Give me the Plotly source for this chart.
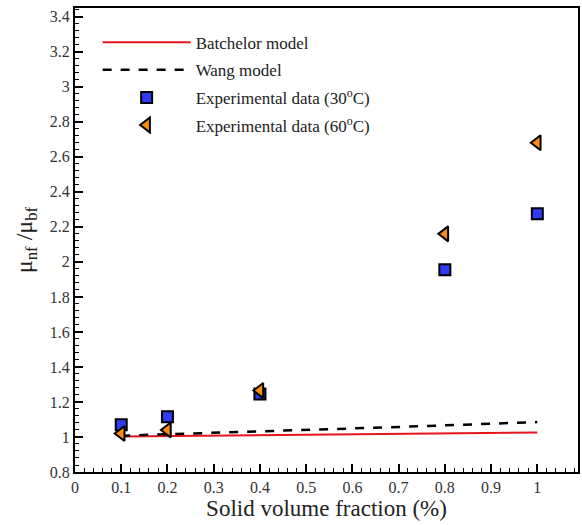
import plotly.graph_objects as go

# Data
phi_model = [0.1, 0.2, 0.3, 0.4, 0.5, 0.6, 0.7, 0.8, 0.9, 1.0]
batchelor = [1.0025, 1.0050, 1.0076, 1.0101, 1.0127, 1.0152, 1.0178, 1.0204, 1.0230, 1.0256]
wang = [1.0074, 1.0151, 1.0230, 1.0312, 1.0396, 1.0482, 1.0571, 1.0663, 1.0757, 1.0853]
phi_exp = [0.1, 0.2, 0.4, 0.8, 1.0]
exp_30 = [1.07, 1.115, 1.245, 1.955, 2.275]
exp_60 = [1.02, 1.04, 1.265, 2.16, 2.68]

x_ticks = [0, 0.1, 0.2, 0.3, 0.4, 0.5, 0.6, 0.7, 0.8, 0.9, 1]
x_tick_labels = ["0", "0.1", "0.2", "0.3", "0.4", "0.5", "0.6", "0.7", "0.8", "0.9", "1"]
y_ticks = [0.8, 1, 1.2, 1.4, 1.6, 1.8, 2, 2.2, 2.4, 2.6, 2.8, 3, 3.2, 3.4]
y_tick_labels = ["0.8", "1", "1.2", "1.4", "1.6", "1.8", "2", "2.2", "2.4", "2.6", "2.8", "3", "3.2", "3.4"]

FONT = "'Liberation Serif', 'Times New Roman', Times, serif"

fig = go.Figure()
fig.add_trace(go.Scatter(x=phi_model, y=batchelor, mode="lines", name="Batchelor model",
                         line=dict(color="#e8141c", width=2), legendgroup="a"))
fig.add_trace(go.Scatter(x=phi_model, y=wang, mode="lines", name="Wang model",
                         line=dict(color="black", width=2.5, dash="dash"), legendgroup="b"))
fig.add_trace(go.Scatter(x=phi_exp, y=exp_30, mode="markers", name="Experimental data (30<sup>o</sup>C)",
                         marker=dict(symbol="square", size=11, color="#2f3cf5",
                                     line=dict(color="black", width=2)), legendgroup="c"))
fig.add_trace(go.Scatter(x=phi_exp, y=exp_60, mode="markers", name="Experimental data (60<sup>o</sup>C)",
                         marker=dict(symbol="triangle-left", size=13, color="#ff8c10",
                                     line=dict(color="black", width=2)), legendgroup="d"))

axis_common = dict(showgrid=False, zeroline=False, showline=True, linecolor="black", linewidth=2,
                   mirror=True, ticks="inside", ticklen=8, tickwidth=2, tickcolor="black",
                   tickfont=dict(family=FONT, size=16, color="#333"))

fig.update_xaxes(range=[0, 1.088], tickvals=x_ticks, ticktext=x_tick_labels,
                 minor=dict(dtick=0.02, ticks="inside", ticklen=4, tickwidth=1, tickcolor="black"),
                 title=dict(text="Solid volume fraction (%)", font=dict(family=FONT, size=23, color="#222"),
                            standoff=3),
                 **axis_common)
fig.update_yaxes(range=[0.8, 3.45], tickvals=y_ticks, ticktext=y_tick_labels,
                 minor=dict(dtick=0.04, ticks="inside", ticklen=4, tickwidth=1, tickcolor="black"),
                 title=dict(text="μ<sub>nf</sub> /μ<sub>bf</sub>", font=dict(family=FONT, size=24, color="#222"),
                            standoff=10),
                 **axis_common)

fig.update_layout(
    width=582, height=525,
    margin=dict(l=75, r=2, t=8, b=53),
    plot_bgcolor="white", paper_bgcolor="white",
    font=dict(family=FONT, color="#222"),
    legend=dict(x=0.045, y=0.964, xanchor="left", yanchor="top", bgcolor="rgba(0,0,0,0)",
                font=dict(family=FONT, size=17, color="#222"), traceorder="grouped",
                tracegroupgap=2.5, itemwidth=88),
    showlegend=True,
)

fig.write_html("out.html")
